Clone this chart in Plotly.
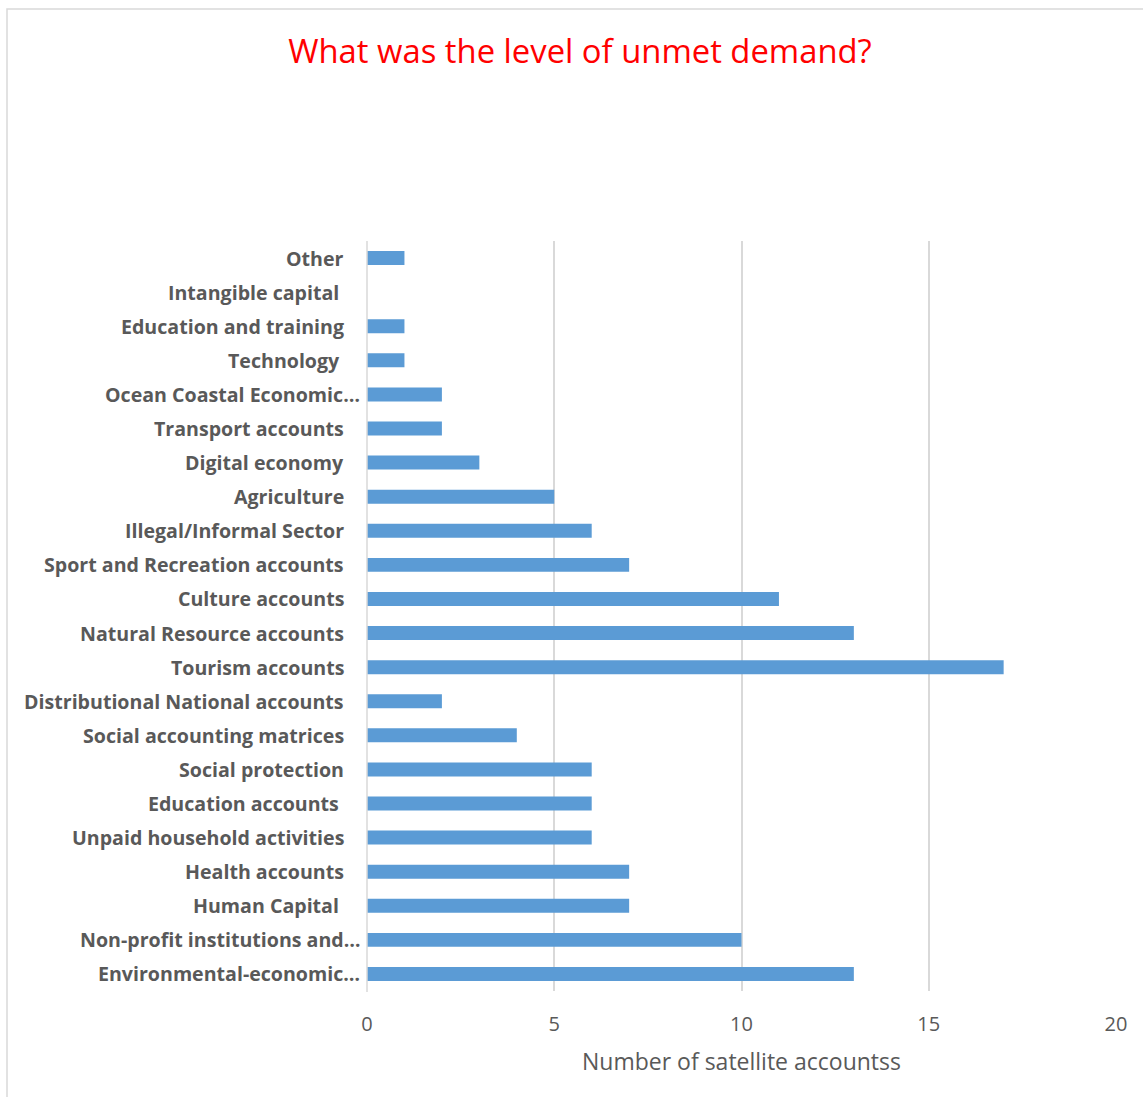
import plotly.graph_objects as go

# Data (bottom to top as displayed)
categories = [
    "Environmental-economic…",
    "Non-profit institutions and…",
    "Human Capital",
    "Health accounts",
    "Unpaid household activities",
    "Education accounts",
    "Social protection",
    "Social accounting matrices",
    "Distributional National accounts",
    "Tourism accounts",
    "Natural Resource accounts",
    "Culture accounts",
    "Sport and Recreation accounts",
    "Illegal/Informal Sector",
    "Agriculture",
    "Digital economy",
    "Transport accounts",
    "Ocean Coastal Economic…",
    "Technology",
    "Education and training",
    "Intangible capital",
    "Other",
]
values = [13, 10, 7, 7, 6, 6, 6, 4, 2, 17, 13, 11, 7, 6, 5, 3, 2, 2, 1, 1, 0, 1]
trailing_space = {"Human Capital", "Education accounts", "Technology", "Intangible capital"}
x_ticks = [0, 5, 10, 15, 20]

W, H = 1143, 1097
L, R, T, B = 367, 1116, 241, 991  # plot area in pixels

def px_x(p):
    return (p - L) / (R - L)

def px_y(p):
    return (B - p) / (B - T)

fig = go.Figure()
fig.add_trace(go.Bar(
    x=values, y=categories, orientation="h",
    marker=dict(color="#5B9BD5", line=dict(width=0)),
    hoverinfo="x+y",
))

label_font = dict(family="Open Sans, sans-serif", size=19.6, color="#595959")
annotations = []
for c in categories:
    trunc = c.endswith("…")
    txt = "<b>" + c + ("\u00a0" if c in trailing_space else "") + "</b>"
    annotations.append(dict(
        x=px_x(362 if trunc else 346), xref="paper", xanchor="right",
        y=c, yref="y", yanchor="middle",
        text=txt, showarrow=False, font=label_font,
    ))

fig.update_layout(
    width=W, height=H,
    margin=dict(l=L, r=W - R, t=T, b=H - B, pad=0),
    paper_bgcolor="white", plot_bgcolor="white",
    showlegend=False,
    bargap=0.59,
    title=dict(
        text="What was the level of unmet demand?",
        font=dict(family="Open Sans, sans-serif", size=32.8, color="#FF0000"),
        x=580 / W, xanchor="center", y=1 - 52 / H, yanchor="middle",
    ),
    xaxis=dict(
        range=[0, 20], tickvals=x_ticks, ticktext=[str(v) for v in x_ticks],
        showgrid=True, gridcolor="#D9D9D9", gridwidth=1.5,
        zeroline=False, showline=False, ticks="",
        tickfont=dict(family="Open Sans, sans-serif", size=20, color="#595959"),
        ticklabelstandoff=19,
        title=dict(text="Number of satellite accountss",
                   font=dict(family="Open Sans, sans-serif", size=23, color="#595959"),
                   standoff=17),
        fixedrange=True,
    ),
    yaxis=dict(
        categoryorder="array", categoryarray=categories,
        showticklabels=False, ticks="", showgrid=False, zeroline=False,
        showline=False, fixedrange=True,
    ),
    annotations=annotations,
    shapes=[
        # y axis line
        dict(type="line", xref="paper", yref="paper",
             x0=0, x1=0, y0=px_y(T), y1=px_y(B + 1),
             line=dict(color="#D9D9D9", width=1.5)),
        # chart border
        dict(type="rect", xref="paper", yref="paper",
             x0=px_x(7), x1=px_x(1160), y0=px_y(9), y1=px_y(1110),
             line=dict(color="#D9D9D9", width=1.5), layer="below"),
    ],
)

fig.write_html("out.html", config={"displayModeBar": False},
               post_script="document.body.style.margin='0';")
